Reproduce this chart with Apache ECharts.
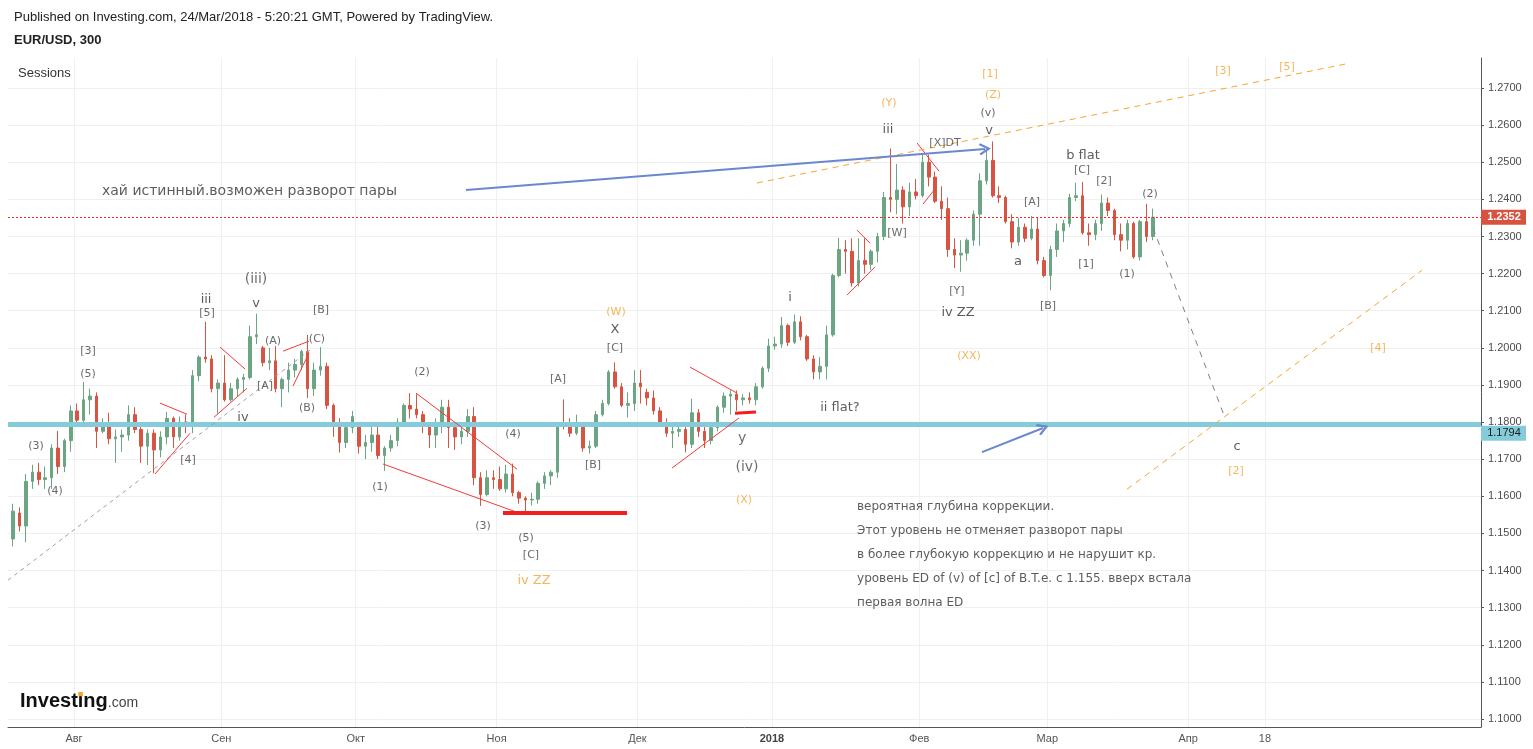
<!DOCTYPE html>
<html><head><meta charset="utf-8">
<script src="https://cdn.jsdelivr.net/npm/echarts@6/dist/echarts.min.js"></script>
<style>html,body{margin:0;padding:0;background:#fff;}#c{width:1533px;height:749px;}</style>
</head><body><div id="c"></div>
<script>
// ---------- DATA (daily OHLC, EUR/USD) ----------
const startDate = '2017-07-18';
const opens = [
1.1485,1.1555,1.1520,1.1640,1.1665,1.1645,1.1650,1.1730,1.1680,1.1750,
1.1830,1.1805,1.1860,1.1870,1.1775,1.1795,1.1755,1.1760,1.1765,1.1820,
1.1780,1.1735,1.1770,1.1725,1.1760,1.1810,1.1760,1.1800,1.1795,1.1925,
1.1975,1.1970,1.1890,1.1905,1.1860,1.1890,1.1915,1.1920,1.2030,1.2000,
1.1960,1.1965,1.1890,1.1915,1.1940,1.1955,1.1990,1.1890,1.1940,1.1950,
1.1845,1.1795,1.1745,1.1785,1.1790,1.1735,1.1745,1.1765,1.1710,1.1730,
1.1750,1.1800,1.1845,1.1835,1.1820,1.1790,1.1765,1.1790,1.1840,1.1785,
1.1760,1.1775,1.1815,1.1650,1.1605,1.1650,1.1645,1.1620,1.1660,1.1610,
1.1595,1.1590,1.1592,1.1635,1.1655,1.1665,1.1795,1.1790,1.1770,1.1795,
1.1730,1.1735,1.1820,1.1850,1.1935,1.1895,1.1845,1.1850,1.1905,1.1880,
1.1865,1.1830,1.1795,1.1770,1.1775,1.1780,1.1740,1.1825,1.1775,1.1750,
1.1785,1.1840,1.1870,1.1875,1.1860,1.1865,1.1860,1.1895,1.1945,1.2005,
1.2010,1.2060,1.2015,1.2070,1.2030,1.1970,1.1935,1.1950,1.2035,1.2195,
1.2265,1.2260,1.2175,1.2235,1.2225,1.2260,1.2300,1.2405,1.2400,1.2425,
1.2380,1.2420,1.2410,1.2500,1.2460,1.2395,1.2375,1.2265,1.2250,1.2255,
1.2290,1.2360,1.2450,1.2505,1.2410,1.2405,1.2340,1.2285,1.2325,1.2295,
1.2320,1.2235,1.2195,1.2265,1.2315,1.2335,1.2405,1.2410,1.2310,1.2305,
1.2335,1.2390,1.2370,1.2305,1.2290,1.2335,1.2245,1.2340,1.2300];
const closes = [
1.1560,1.1520,1.1640,1.1665,1.1645,1.1650,1.1730,1.1680,1.1750,1.1830,
1.1805,1.1860,1.1870,1.1775,1.1795,1.1755,1.1760,1.1765,1.1820,1.1780,
1.1735,1.1770,1.1725,1.1760,1.1810,1.1760,1.1800,1.1795,1.1925,1.1975,
1.1970,1.1890,1.1905,1.1860,1.1890,1.1915,1.1920,1.2030,1.2035,1.1960,
1.1965,1.1890,1.1915,1.1940,1.1955,1.1990,1.1890,1.1940,1.1950,1.1845,
1.1795,1.1745,1.1785,1.1815,1.1735,1.1745,1.1765,1.1710,1.1730,1.1750,
1.1800,1.1845,1.1835,1.1820,1.1790,1.1765,1.1790,1.1840,1.1785,1.1760,
1.1775,1.1815,1.1650,1.1605,1.1650,1.1645,1.1620,1.1660,1.1610,1.1595,
1.1590,1.1592,1.1635,1.1655,1.1665,1.1795,1.1790,1.1770,1.1795,1.1730,
1.1735,1.1820,1.1850,1.1935,1.1895,1.1845,1.1850,1.1905,1.1895,1.1865,
1.1830,1.1795,1.1770,1.1775,1.1780,1.1740,1.1825,1.1775,1.1750,1.1785,
1.1840,1.1870,1.1875,1.1860,1.1865,1.1860,1.1895,1.1945,1.2005,1.2010,
1.2060,1.2015,1.2070,1.2030,1.1970,1.1935,1.1950,1.2035,1.2195,1.2265,
1.2260,1.2175,1.2235,1.2225,1.2260,1.2300,1.2405,1.2400,1.2425,1.2380,
1.2420,1.2410,1.2500,1.2460,1.2395,1.2375,1.2265,1.2250,1.2255,1.2290,
1.2360,1.2450,1.2505,1.2410,1.2405,1.2340,1.2285,1.2325,1.2295,1.2320,
1.2235,1.2195,1.2265,1.2315,1.2335,1.2405,1.2410,1.2310,1.2305,1.2335,
1.2390,1.2370,1.2305,1.2290,1.2335,1.2245,1.2340,1.2300,1.2352];
const lows = [
1.1465,1.1505,1.1476,1.1620,1.1630,1.1620,1.1620,1.1660,1.1665,1.1720,
1.1795,1.1800,1.1820,1.1730,1.1770,1.1740,1.1690,1.1720,1.1750,1.1770,
1.1690,1.1684,1.1662,1.1705,1.1740,1.1730,1.1750,1.1770,1.1770,1.1910,
1.1960,1.1880,1.1823,1.1855,1.1855,1.1870,1.1880,1.1915,1.2010,1.1950,
1.1940,1.1880,1.1840,1.1880,1.1920,1.1940,1.1865,1.1870,1.1925,1.1835,
1.1760,1.1718,1.1730,1.1770,1.1715,1.1700,1.1720,1.1700,1.1668,1.1720,
1.1735,1.1790,1.1810,1.1810,1.1770,1.1730,1.1730,1.1770,1.1730,1.1725,
1.1740,1.1760,1.1630,1.1574,1.1600,1.1620,1.1615,1.1610,1.1600,1.1580,
1.1554,1.1575,1.1580,1.1620,1.1630,1.1650,1.1780,1.1760,1.1765,1.1720,
1.1715,1.1730,1.1815,1.1845,1.1890,1.1840,1.1812,1.1830,1.1850,1.1845,
1.1820,1.1790,1.1760,1.1730,1.1760,1.1718,1.1730,1.1760,1.1730,1.1740,
1.1775,1.1825,1.1820,1.1830,1.1845,1.1850,1.1845,1.1890,1.1935,1.1995,
1.2000,1.2005,1.2010,1.2020,1.1965,1.1915,1.1915,1.1915,1.2030,1.2190,
1.2200,1.2165,1.2165,1.2200,1.2210,1.2230,1.2290,1.2365,1.2360,1.2335,
1.2355,1.2400,1.2405,1.2435,1.2390,1.2345,1.2245,1.2215,1.2205,1.2235,
1.2275,1.2275,1.2440,1.2405,1.2390,1.2335,1.2268,1.2275,1.2285,1.2290,
1.2225,1.2190,1.2155,1.2245,1.2285,1.2325,1.2395,1.2305,1.2275,1.2290,
1.2315,1.2355,1.2290,1.2260,1.2265,1.2240,1.2235,1.2285,1.2290];
const highs = [
1.1580,1.1570,1.1660,1.1685,1.1690,1.1680,1.1740,1.1776,1.1755,1.1845,
1.1850,1.1908,1.1890,1.1880,1.1810,1.1825,1.1780,1.1780,1.1845,1.1840,
1.1790,1.1780,1.1780,1.1775,1.1827,1.1815,1.1815,1.1820,1.1940,1.1980,
1.2070,1.1980,1.1915,1.1980,1.1905,1.1920,1.1930,1.2060,1.2092,1.2005,
1.2000,1.2005,1.1920,1.1960,1.1970,1.1995,1.2035,1.1960,1.2002,1.1960,
1.1850,1.1810,1.1800,1.1830,1.1800,1.1765,1.1790,1.1790,1.1735,1.1765,
1.1810,1.1850,1.1878,1.1875,1.1830,1.1800,1.1810,1.1860,1.1860,1.1790,
1.1790,1.1835,1.1840,1.1665,1.1670,1.1670,1.1680,1.1685,1.1688,1.1615,
1.1600,1.1610,1.1640,1.1665,1.1670,1.1800,1.1861,1.1810,1.1820,1.1800,
1.1750,1.1830,1.1860,1.1940,1.1961,1.1905,1.1880,1.1940,1.1940,1.1890,
1.1885,1.1840,1.1810,1.1790,1.1800,1.1790,1.1863,1.1835,1.1790,1.1800,
1.1845,1.1880,1.1885,1.1885,1.1875,1.1880,1.1905,1.1950,1.2025,1.2030,
1.2083,1.2065,1.2090,1.2085,1.2035,1.1980,1.1975,1.2060,1.2200,1.2296,
1.2290,1.2295,1.2295,1.2295,1.2265,1.2310,1.2420,1.2537,1.2495,1.2435,
1.2445,1.2455,1.2525,1.2520,1.2475,1.2435,1.2405,1.2295,1.2290,1.2295,
1.2370,1.2470,1.2530,1.2556,1.2435,1.2410,1.2360,1.2350,1.2335,1.2355,
1.2350,1.2245,1.2275,1.2335,1.2345,1.2415,1.2445,1.2447,1.2335,1.2345,
1.2413,1.2405,1.2375,1.2335,1.2345,1.2340,1.2345,1.2388,1.2375];

const tickDates  = ['2017-08-01','2017-09-01','2017-10-02','2017-11-01','2017-12-01','2018-01-01','2018-02-01','2018-03-01','2018-04-02','2018-04-18'];
const tickLabels = ['Авг','Сен','Окт','Ноя','Дек','2018','Фев','Мар','Апр','18'];
const priceTicks = [1.10,1.11,1.12,1.13,1.14,1.15,1.16,1.17,1.18,1.19,1.20,1.21,1.22,1.23,1.24,1.25,1.26,1.27];
const levelPrice = 1.1794;

// ---------- drawings (trading-day index, price) ----------
const waveLabels = [
 [4.07,1.1735,'(3)','s'],[7.03,1.1614,'(4)','s'],[12.19,1.1991,'[3]','s'],[12.19,1.1929,'(5)','s'],
 [30.62,1.2129,'iii','r'],[30.77,1.2094,'[5]','s'],[38.42,1.2185,'(iii)','R'],[38.42,1.2118,'v','r'],
 [48.58,1.2102,'[B]','s'],[41.08,1.2018,'(A)','s'],[47.95,1.2023,'(C)','s'],[39.83,1.1897,'[A]','s'],
 [46.39,1.1837,'(B)','s'],[36.39,1.1813,'iv','r'],[27.80,1.1697,'[4]','s'],[64.35,1.1935,'(2)','s'],
 [57.79,1.1625,'(1)','s'],[78.56,1.1767,'(4)','s'],[73.88,1.1519,'(3)','s'],[80.59,1.1487,'(5)','s'],
 [81.37,1.1441,'[C]','s'],[81.84,1.1374,'iv ZZ','O'],[85.59,1.1916,'[A]','s'],[91.06,1.1684,'[B]','s'],
 [94.65,1.2096,'(W)','o'],[94.49,1.2048,'X','r'],[94.49,1.1999,'[C]','s'],[114.33,1.1757,'y','R'],
 [115.11,1.1678,'(iv)','R'],[114.64,1.1589,'(X)','o'],[121.82,1.2134,'i','r'],[129.63,1.1840,'ii flat?','r'],
 [137.28,1.2660,'(Y)','o'],[137.13,1.2589,'iii','r'],[138.53,1.2309,'[W]','s'],[146.03,1.2552,'[X]DT','s'],
 [153.06,1.2738,'[1]','o'],[153.53,1.2681,'(Z)','o'],[152.75,1.2633,'(v)','s'],[152.90,1.2584,'v','r'],
 [147.90,1.2153,'[Y]','s'],[148.06,1.2094,'iv ZZ','r'],[149.78,1.1978,'(XX)','o'],[157.43,1.2231,'a','r'],
 [159.62,1.2393,'[A]','s'],[162.12,1.2112,'[B]','s'],[167.58,1.2519,'b flat','r'],[167.43,1.2479,'[C]','s'],
 [170.86,1.2449,'[2]','s'],[168.05,1.2226,'[1]','s'],[174.45,1.2199,'(1)','s'],[178.05,1.2414,'(2)','s'],
 [191.63,1.1735,'c','r'],[191.48,1.1668,'[2]','o'],[189.45,1.2746,'[3]','o'],[199.44,1.2757,'[5]','o'],
 [213.65,1.1999,'[4]','o']
];
const notes = [
 [14.37,1.2422,'хай истинный.возможен разворот пары','big'],
 [132.29,1.1571,'вероятная глубина коррекции.','n'],
 [132.29,1.1506,'Этот уровень не отменяет разворот пары','n'],
 [132.29,1.1441,'в более глубокую коррекцию и не нарушит кр.','n'],
 [132.29,1.1377,'уровень ED of (v) of [c] of B.T.e. с 1.155. вверх встала','n'],
 [132.29,1.1312,'первая волна ED','n']
];
const segments = [
 [-0.31,1.1374,46.86,1.1994,'gd'],
 [22.65,1.1660,28.12,1.1770,'r'],[23.43,1.1851,27.65,1.1821,'r'],
 [31.86,1.1813,37.02,1.1891,'r'],[32.80,1.2002,36.71,1.1943,'r'],
 [42.64,1.1991,46.70,1.2018,'r'],[44.20,1.1897,46.70,1.1986,'r'],
 [63.41,1.1878,79.19,1.1673,'r'],[58.26,1.1687,79.19,1.1557,'r'],
 [77.00,1.1556,96.37,1.1556,'R'],
 [106.21,1.1948,113.55,1.1878,'r'],[103.39,1.1676,113.86,1.1811,'r'],
 [113.23,1.1824,116.51,1.1827,'R3'],
 [132.29,1.2317,134.32,1.2282,'r'],[130.72,1.2142,135.10,1.2218,'r'],
 [141.66,1.2552,145.09,1.2476,'r'],[142.59,1.2387,144.47,1.2428,'r'],
 [116.67,1.2444,208.66,1.2765,'od'],[174.45,1.1619,220.53,1.2209,'od'],
 [178.52,1.2323,189.76,1.1811,'gf']
];
const arrows = [
 [71.22,1.2425,152.28,1.2536],
 [151.81,1.1719,161.34,1.1784]
];

// ---------- build ----------
function tradingDays(start, n) {
  const out = []; const d = new Date(start + 'T00:00:00Z');
  while (out.length < n) { const w = d.getUTCDay(); if (w !== 0 && w !== 6) out.push(d.toISOString().slice(0,10)); d.setUTCDate(d.getUTCDate() + 1); }
  return out;
}
const dates = tradingDays(startDate, 260);
const tickIdx = tickDates.map(d => dates.indexOf(d));
const candleData = opens.map((o, i) => [i + 0.5, o, closes[i], lows[i], highs[i]]);
const lastPrice = closes[closes.length - 1];

const X_MIN = -0.31, X_MAX = 229.74, Y_MIN = 1.09784, Y_MAX = 1.27809;
const FONT = '"DejaVu Sans", Verdana, sans-serif';
const labelStyles = {
  s: {fontSize: 11, color: '#444'},
  r: {fontSize: 13, color: '#333'},
  R: {fontSize: 14, color: '#4a4a4a'},
  o: {fontSize: 11, color: '#f5a332'},
  O: {fontSize: 13, color: '#f5a332'}
};
const segStyles = {
  r:  {color: '#f03b3b', width: 1, type: 'solid'},
  R:  {color: '#f41e1e', width: 4, type: 'solid'},
  R3: {color: '#f41e1e', width: 3, type: 'solid'},
  gd: {color: '#a0a0a0', width: 1, type: [4, 4]},
  gf: {color: '#808080', width: 1, type: [6, 6]},
  od: {color: '#f6a630', width: 1, type: [6, 5]}
};

const option = {
  animation: false,
  backgroundColor: '#ffffff',
  grid: {left: 8, right: 52, top: 58, bottom: 22},
  xAxis: {
    type: 'value', min: X_MIN, max: X_MAX,
    axisLine: {show: true, onZero: false, lineStyle: {color: '#555', width: 1}},
    axisTick: {show: false, customValues: tickIdx},
    axisLabel: {
      customValues: tickIdx, color: '#555', fontSize: 11, margin: 6, fontFamily: '"Liberation Sans", Arial',
      formatter: v => { const k = tickIdx.indexOf(v); const t = k >= 0 ? tickLabels[k] : ''; return /^\d{4}$/.test(t) ? '{b|' + t + '}' : t; },
      rich: {b: {fontWeight: 'bold', color: '#444', fontSize: 11, fontFamily: '"Liberation Sans", Arial'}}
    },
    splitLine: {show: true, lineStyle: {color: '#f0f0f0', width: 1}}
  },
  yAxis: {
    type: 'value', position: 'right', min: Y_MIN, max: Y_MAX,
    axisLine: {show: true, onZero: false, lineStyle: {color: '#555', width: 1}},
    axisTick: {show: true, length: 3, customValues: priceTicks, lineStyle: {color: '#555'}},
    axisLabel: {customValues: priceTicks, formatter: v => v.toFixed(4), color: '#4c4c4c', fontSize: 11, margin: 7, fontFamily: '"Liberation Sans", Arial'},
    splitLine: {show: true, lineStyle: {color: '#f0f0f0', width: 1}}
  },
  series: [
    {
      type: 'candlestick', data: candleData, encode: {x: 0, y: [1, 2, 3, 4]}, barWidth: 3,
      itemStyle: {color: '#6ba583', color0: '#d75442', borderColor: '#6ba583', borderColor0: '#d75442', borderWidth: 1},
      z: 2,
      markLine: {
        silent: true, symbol: ['none', 'none'], label: {show: false}, animation: false, precision: 4,
        data: [
          {yAxis: lastPrice, lineStyle: {color: '#ff2a1f', width: 1.2, type: [2, 2], opacity: 1}},
          {yAxis: levelPrice, lineStyle: {color: '#84ccda', width: 5, type: 'solid', opacity: 1}}
        ]
      }
    },
    {
      type: 'lines', coordinateSystem: 'cartesian2d', silent: true, z: 5, symbol: ['none', 'none'],
      lineStyle: {opacity: 1},
      data: segments.map(s => ({coords: [[s[0], s[1]], [s[2], s[3]]], lineStyle: Object.assign({opacity: 1}, segStyles[s[4]])}))
    },
    {
      type: 'lines', coordinateSystem: 'cartesian2d', silent: true, z: 6,
      symbol: ['none', 'path://M5,0 L10,7.5 L8.6,8.6 L5,3.2 L1.4,8.6 L0,7.5 Z'], symbolSize: [0, 12],
      lineStyle: {color: '#6a87d0', width: 2, opacity: 1},
      itemStyle: {color: '#6a87d0'},
      data: arrows.map(a => ({coords: [[a[0], a[1]], [a[2], a[3]]]}))
    },
    {
      type: 'scatter', symbol: 'circle', symbolSize: 1, silent: true, z: 10, clip: false,
      itemStyle: {color: 'rgba(0,0,0,0)'},
      data: waveLabels.map(l => ({
        value: [l[0], l[1]],
        label: Object.assign({show: true, position: 'inside', formatter: l[2], fontFamily: FONT, align: 'center', verticalAlign: 'middle'}, labelStyles[l[3]])
      }))
    },
    {
      type: 'scatter', symbol: 'circle', symbolSize: 1, silent: true, z: 10, clip: false,
      itemStyle: {color: 'rgba(0,0,0,0)'},
      data: notes.map(n => ({
        value: [n[0], n[1]],
        label: {show: true, position: 'inside', align: 'left', verticalAlign: 'middle', formatter: n[2], fontFamily: FONT, color: '#333', fontSize: n[3] === 'big' ? 14 : 12}
      }))
    }
  ]
};

const chart = echarts.init(document.getElementById('c'), null, {renderer: 'canvas', width: 1533, height: 749});
chart.setOption(option);

const axX = chart.convertToPixel({xAxisIndex: 0}, X_MAX);
const yL = chart.convertToPixel({yAxisIndex: 0}, lastPrice);
const yV = chart.convertToPixel({yAxisIndex: 0}, levelPrice);

const mctx = document.createElement('canvas').getContext('2d');
mctx.font = 'bold 20px "Liberation Sans", Arial';
const wInv = mctx.measureText('Investing').width;
const wPre = mctx.measureText('Invest').width;
const wI = mctx.measureText('i').width;

function txt(x, y, text, font, fill, align) {
  return {type: 'text', z: 100, silent: true, style: {x: x, y: y, text: text, font: font, fill: fill, align: align || 'left', textAlign: align || 'left', verticalAlign: 'middle', textVerticalAlign: 'middle'}};
}
chart.setOption({
  graphic: {elements: [
    txt(14, 17, 'Published on Investing.com, 24/Mar/2018 - 5:20:21 GMT, Powered by TradingView.', '13px "Liberation Sans", Arial', '#222'),
    txt(14, 40, 'EUR/USD, 300', 'bold 13px "Liberation Sans", Arial', '#222'),
    txt(18, 73, 'Sessions', '13px "Liberation Sans", Arial', '#333'),
    txt(20, 701, 'Investing', 'bold 20px "Liberation Sans", Arial', '#111'),
    txt(20 + wInv, 703.5, '.com', '14px "Liberation Sans", Arial', '#444'),
    {type: 'rect', z: 101, silent: true, shape: {x: 20 + wPre + wI / 2 - 2.3, y: 692, width: 4.6, height: 4.2}, style: {fill: '#f5a623'}},
    {type: 'rect', z: 100, silent: true, shape: {x: axX, y: yL - 7.5, width: 45, height: 15}, style: {fill: '#d9523f'}},
    txt(axX + 23, yL, lastPrice.toFixed(4), 'bold 11px "Liberation Sans", Arial', '#ffffff', 'center'),
    {type: 'rect', z: 100, silent: true, shape: {x: axX, y: yV + 1.5, width: 45, height: 15}, style: {fill: '#84ccda'}},
    txt(axX + 23, yV + 9, levelPrice.toFixed(4), '11px "Liberation Sans", Arial', '#1a1a1a', 'center')
  ]}
});
</script>
</body></html>
